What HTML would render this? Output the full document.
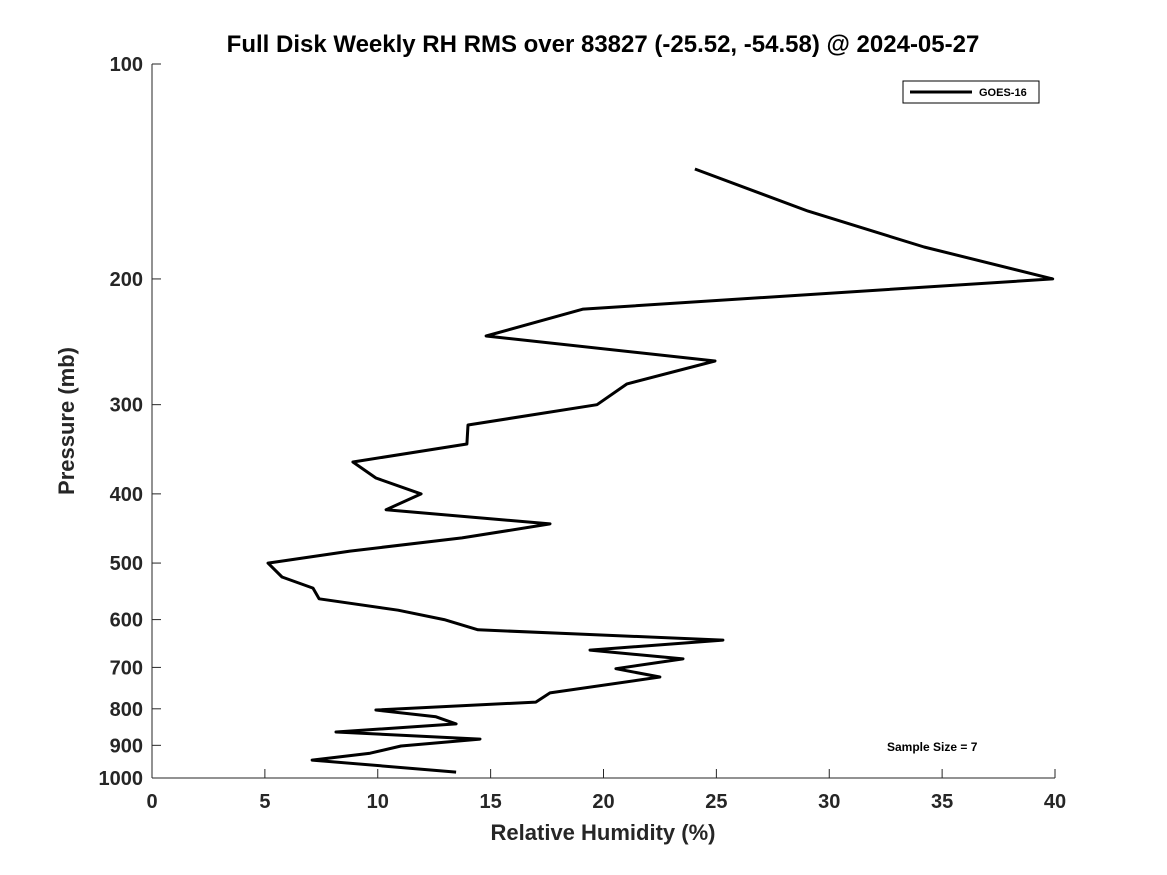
<!DOCTYPE html>
<html><head><meta charset="utf-8"><style>
body{margin:0;background:#fff;}
svg{display:block;font-family:"Liberation Sans","DejaVu Sans",sans-serif;}
</style></head><body>
<svg id="chart" width="1167" height="875" viewBox="0 0 1167 875" xmlns="http://www.w3.org/2000/svg">
<rect width="1167" height="875" fill="#fff"/>
<text x="603" y="52" text-anchor="middle" font-size="24" font-weight="bold" fill="#000">Full Disk Weekly RH RMS over 83827 (-25.52, -54.58) @ 2024-05-27</text>
<g id="axes"></g>
<polyline id="series" fill="none" stroke="#000" stroke-width="3" stroke-linejoin="round"/>
<g>
<rect x="903" y="81" width="136" height="22" fill="#fff" stroke="#000" stroke-width="1"/>
<line x1="910" y1="92" x2="972" y2="92" stroke="#000" stroke-width="3"/>
<text x="979" y="96" font-size="11" font-weight="bold">GOES-16</text>
</g>
<text x="887" y="751" font-size="12" font-weight="bold">Sample Size = 7</text>
<text x="603" y="840" text-anchor="middle" font-size="22" font-weight="bold" fill="#262626">Relative Humidity (%)</text>
<text transform="translate(74,421) rotate(-90)" text-anchor="middle" font-size="22" font-weight="bold" fill="#262626">Pressure (mb)</text>
</svg>
<script>
const rhValues=[24.05,29.06,34.2,39.9,19.1,14.8,24.94,21.04,19.71,14.0,13.95,8.9,9.92,11.92,10.37,17.63,13.73,8.77,5.14,5.76,7.13,7.4,10.9,12.94,14.44,25.29,19.4,23.52,20.55,22.5,17.63,17.0,9.92,12.58,13.47,8.15,14.53,11.03,9.66,7.09,13.47];
const pressureLevels=[140.3,160.7,180.4,200,220.4,240.4,260.6,280.6,300,320.3,340.6,360.9,380,400,421,440.7,461,481,500,523,542,561,582,600,620,641,662,681,703,722,760,783,803,821,840,862,882,902,923,944,981];
const xTicks=[0,5,10,15,20,25,30,35,40];
const yTicks=[100,200,300,400,500,600,700,800,900,1000];
const X0=152,X1=1055,Y0=64,Y1=778;
function xs(v){return X0+(v-0)/(40-0)*(X1-X0);}
function ys(p){return Y0+(Math.log10(p)-2)/(3-2)*(Y1-Y0);}
const NS="http://www.w3.org/2000/svg";
const ax=document.getElementById('axes');
function mk(t,a){const e=document.createElementNS(NS,t);for(const k in a)e.setAttribute(k,a[k]);ax.appendChild(e);return e;}
let l=mk('line',{x1:X0,y1:Y0,x2:X0,y2:Y1,stroke:'#262626','stroke-width':1});


l=mk('line',{x1:X0,y1:Y1,x2:X1,y2:Y1,stroke:'#262626','stroke-width':1});


xTicks.forEach(v=>{
 const t=mk('line',{x1:xs(v),y1:Y1,x2:xs(v),y2:Y1-9,stroke:'#262626'});
 
 
 const tx=mk('text',{x:xs(v),y:Y1+30,'text-anchor':'middle','font-size':20,'font-weight':'bold',fill:'#262626'});
 tx.textContent=v;
 
 
});
yTicks.forEach(v=>{
 const t=mk('line',{x1:X0,y1:ys(v),x2:X0+9,y2:ys(v),stroke:'#262626'});
 
 
 const tx=mk('text',{x:X0-9,y:ys(v)+7,'text-anchor':'end','font-size':20,'font-weight':'bold',fill:'#262626'});
 tx.textContent=v;
 
 
});
document.getElementById('series').setAttribute('points',rhValues.map((v,i)=>xs(v).toFixed(1)+','+ys(pressureLevels[i]).toFixed(1)).join(' '));
</script>
</body></html>
